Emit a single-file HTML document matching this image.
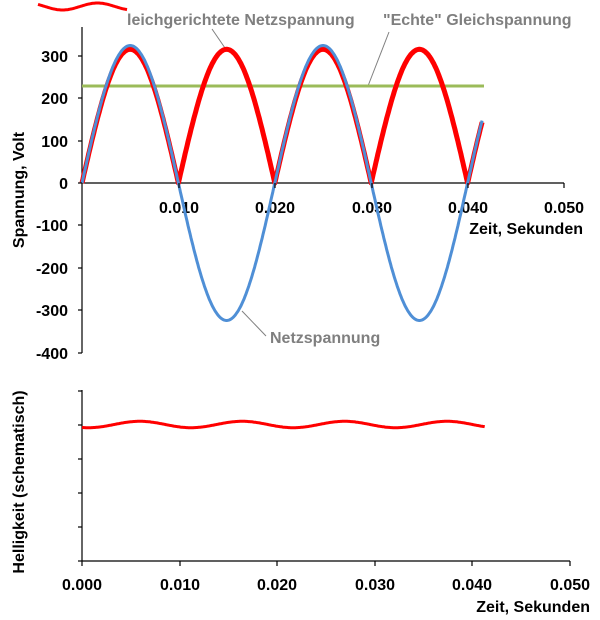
<!DOCTYPE html><html><head><style>body{margin:0;background:#fff}svg{display:block}text{font-family:"Liberation Sans",Arial,sans-serif;font-weight:bold}</style></head><body>
<svg id="s" width="600" height="620" xmlns="http://www.w3.org/2000/svg">
<g stroke="#000" stroke-width="1.2" fill="none">
<line x1="82" y1="27" x2="82" y2="353"/><line x1="82" y1="183" x2="564" y2="183"/>
<line x1="82" y1="390" x2="82" y2="561"/><line x1="82" y1="561" x2="570" y2="561"/>
</g>
<g font-size="16" text-anchor="end" fill="#000">
<text x="68" y="62">300</text><text x="68" y="104">200</text><text x="68" y="147">100</text><text x="68" y="189">0</text>
<text x="68" y="231">-100</text><text x="68" y="274">-200</text><text x="68" y="316">-300</text><text x="68" y="359">-400</text>
</g>
<g font-size="16" text-anchor="middle">
<text x="179" y="213">0.010</text><text x="275" y="213">0.020</text><text x="372" y="213">0.030</text><text x="468" y="213">0.040</text><text x="564" y="213">0.050</text>
<text x="82" y="590">0.000</text><text x="180" y="590">0.010</text><text x="277" y="590">0.020</text><text x="375" y="590">0.030</text><text x="472" y="590">0.040</text><text x="570" y="590">0.050</text>
</g>
<text x="583" y="234" font-size="16" text-anchor="end">Zeit, Sekunden</text>
<text x="590" y="612" font-size="16" text-anchor="end">Zeit, Sekunden</text>
<text transform="translate(24,190) rotate(-90)" font-size="16" text-anchor="middle">Spannung, Volt</text>
<text transform="translate(24,482) rotate(-90)" font-size="16" text-anchor="middle">Helligkeit (schematisch)</text>
<g font-size="16" fill="#7f7f7f"><text x="127" y="25">leichgerichtete Netzspannung</text><text x="383" y="25">"Echte" Gleichspannung</text><text x="270" y="343">Netzspannung</text></g>
<g stroke="#808080" stroke-width="1"><line x1="212" y1="29" x2="225" y2="48"/><line x1="389" y1="32" x2="368" y2="86"/><line x1="266" y1="336" x2="242" y2="311"/></g>
<g id="d"></g>
</svg>
<script>
var d=document.getElementById('d'),ns="http://www.w3.org/2000/svg";
function pl(pts,c,w){var p=document.createElementNS(ns,'polyline');p.setAttribute('points',pts.join(' '));p.setAttribute('fill','none');p.setAttribute('stroke',c);p.setAttribute('stroke-width',w);p.setAttribute('stroke-linejoin','round');d.appendChild(p);}
var r=[],b=[],w=[],t2=[];
for(var i=0;i<=415;i++){var t=i*0.0001,x=82+t*9640;
r.push(x.toFixed(1)+','+(183-Math.abs(316*Math.sin(2*Math.PI*50*t))*0.423).toFixed(1));
b.push(x.toFixed(1)+','+(183-325*Math.sin(2*Math.PI*50*t)*0.423).toFixed(1));}
for(var i=0;i<=413;i++){var t=i*0.0001,x=82+t*9750;w.push(x.toFixed(1)+','+(424.5-3.2*Math.sin(2*Math.PI*(t-0.0033)/0.0105)).toFixed(1));}
for(var x=38;x<=127;x++){t2.push(x+','+(6.5-3.5*Math.sin((x-80)/25*Math.PI/1.4)).toFixed(1));}
pl([82+',86',484+',86'],'#9bbb59',3);
pl(r,'#ff0000',5);pl(b,'#4f8fd6',3);
pl(w,'#ff0000',3);pl(t2,'#ff0000',3);
var tk=[391,425,459,493,527,561];tk.forEach(function(y){pl(['78,'+y,'82,'+y],'#000',1.2)});
[179,275,372,468,564].forEach(function(x){pl([x+',183',x+',188'],'#000',1.2)});
[82,180,277,375,472,570].forEach(function(x){pl([x+',561',x+',566'],'#000',1.2)});
[56,98,141,183,225,268,310,353].forEach(function(y){pl(['78,'+y,'82,'+y],'#000',1.2)});
</script>
</body></html>
